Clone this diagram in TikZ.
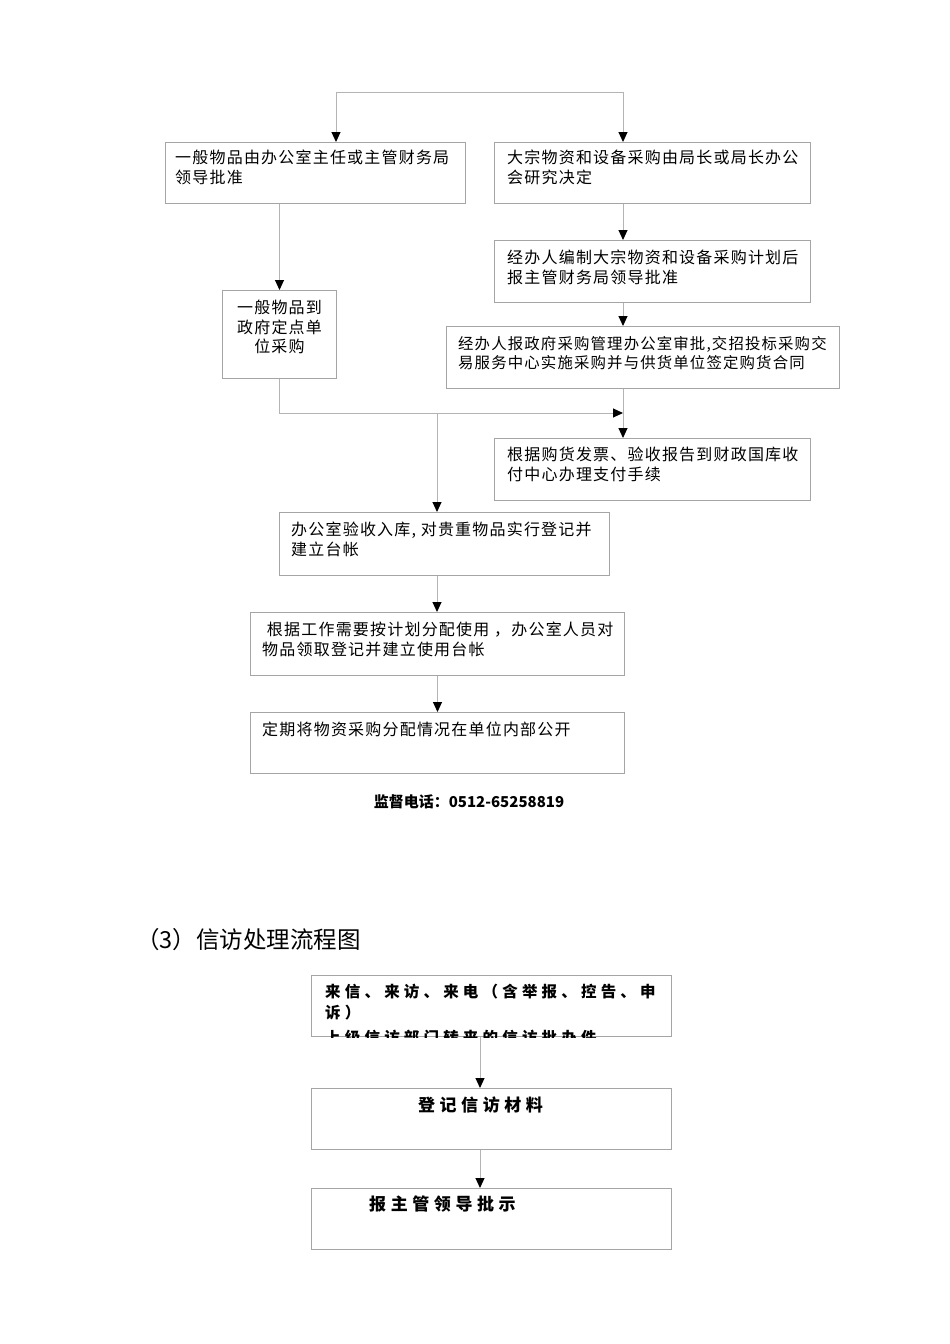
\documentclass[tikz,border=0pt]{standalone}
\usepackage{fontspec}
\setmainfont{Noto Sans CJK SC}
\newfontfamily\caigou[LetterSpace=7.5]{Noto Sans CJK SC}
\newfontfamily\xinfang[LetterSpace=27]{Noto Sans CJK SC}
\usetikzlibrary{
	arrows.meta,
	calc,
	positioning
}
\definecolor{BoxGray}{RGB}{165,165,165}
\definecolor{LineGray}{RGB}{180,180,180}
\tikzset{
	box/.style={draw=BoxGray, line width=1pt, inner sep=0pt, anchor=north west},
	txt/.style={inner sep=0pt, anchor=north west, align=left, font=\caigou\fontsize{16}{19.5}\selectfont},
	xftxt/.style={inner sep=0pt, anchor=north west, align=left, font=\xinfang\bfseries\fontsize{15.5}{20.5}\selectfont},
	link/.style={draw=LineGray, line width=1pt},
	arr/.style={link, -{Triangle[length=10pt,width=9pt,color=black]}}
}

\begin{document}
\begin{tikzpicture}[x=1pt, y=-1pt]
	\useasboundingbox (0,0) rectangle (950,1344);
	% procurement flow
	\node[box, minimum width=300pt, minimum height=61pt] (ga) at (165,142) {};
	\node[box, minimum width=316pt, minimum height=61pt] (gb) at (494,142) {};
	\node[box, minimum width=114pt, minimum height=88pt] (gc) at (222,290) {};
	\node[box, minimum width=316pt, minimum height=62pt] (gd) at (494,240) {};
	\node[box, minimum width=393pt, minimum height=62pt] (ge) at (446,326) {};
	\node[box, minimum width=316pt, minimum height=62pt] (gf) at (494,438) {};
	\node[box, minimum width=330pt, minimum height=63pt] (gg) at (279,512) {};
	\node[box, minimum width=374pt, minimum height=63pt] (gh) at (250,612) {};
	\node[box, minimum width=374pt, minimum height=61pt] (gi) at (250,712) {};

	\node[txt] (ta) at ([xshift=10pt,yshift=-8pt]ga.north west) {一般物品由办公室主任或主管财务局\\领导批准};
	\node[txt] (tb) at ([xshift=13pt,yshift=-8pt]gb.north west) {大宗物资和设备采购由局长或局长办公\\会研究决定};
	\node[txt, align=center, anchor=north] (tc) at ([yshift=-10pt]gc.north) {一般物品到\\政府定点单\\位采购};
	\node[txt] (td) at ([xshift=13pt,yshift=-10pt]gd.north west) {经办人编制大宗物资和设备采购计划后\\报主管财务局领导批准};
	\node[txt, font=\caigou\fontsize{15.4}{19.5}\selectfont] (te) at ([xshift=12pt,yshift=-10pt]ge.north west) {经办人报政府采购管理办公室审批,交招投标采购交\\易服务中心实施采购并与供货单位签定购货合同};
	\node[txt] (tf) at ([xshift=13pt,yshift=-9pt]gf.north west) {根据购货发票、验收报告到财政国库收\\付中心办理支付手续};
	\node[txt] (tg) at ([xshift=12pt,yshift=-10pt]gg.north west) {办公室验收入库, 对贵重物品实行登记并\\建立台帐};
	\node[txt] (th) at ([xshift=12pt,yshift=-10pt]gh.north west) {\ 根据工作需要按计划分配使用 ，办公室人员对\\物品领取登记并建立使用台帐};
	\node[txt] (ti) at ([xshift=12pt,yshift=-10pt]gi.north west) {定期将物资采购分配情况在单位内部公开};

	\coordinate (top1) at (336,92);
	\coordinate (top2) at (623,92);
	\coordinate (mrg) at (623,413);
	\coordinate (mrg2) at (437,413);
	\draw[link] (top1) -- (top2);
	\draw[arr] (top1) -- (top1 |- ga.north);
	\draw[arr] (top2) -- (top2 |- gb.north);
	\draw[arr] (gc.north |- ga.south) -- (gc.north);
	\draw[arr] (top2 |- gb.south) -- (top2 |- gd.north);
	\draw[arr] (top2 |- gd.south) -- (top2 |- ge.north);
	\draw[arr] (top2 |- ge.south) -- (top2 |- gf.north);
	\draw[arr] (gc.south) -- (gc.south |- mrg) -- (mrg);
	\draw[arr] (mrg2) -- (mrg2 |- gg.north);
	\draw[arr] (mrg2 |- gg.south) -- (mrg2 |- gh.north);
	\draw[arr] (gh.south) -- (gi.north);

	\node[inner sep=0pt, font=\bfseries\fontsize{15}{18}\selectfont] (tel) at (469,802) {监督电话：0512-65258819};

	% letters and visits
	\node[inner sep=0pt, anchor=west, font=\fontsize{23.5}{28}\selectfont] (title) at (136,940) {（3）信访处理流程图};

	\node[box, minimum width=360pt, minimum height=61pt] (gj) at (311,975) {};
	\node[box, minimum width=360pt, minimum height=61pt] (gk) at (311,1088) {};
	\node[box, minimum width=360pt, minimum height=61pt] (gl) at (311,1188) {};
	\begin{scope}
		\clip (gj.north west) rectangle (gj.south east);
		\node[xftxt] (tj) at ([xshift=14pt,yshift=-9pt]gj.north west) {来信、来访、来电（含举报、控告、申\\诉）\\[5pt]上级信访部门转来的信访批办件};
	\end{scope}
	\node[xftxt, font=\xinfang\bfseries\fontsize{17}{20}\selectfont, anchor=north] (tk) at ([xshift=-11pt,yshift=-9pt]gk.north) {登记信访材料};
	\node[xftxt, font=\xinfang\bfseries\fontsize{17}{20}\selectfont] (tl) at ([xshift=58pt,yshift=-8pt]gl.north west) {报主管领导批示};

	\coordinate (col) at (480,1000);
	\draw[arr] (col |- gj.south) -- (col |- gk.north);
	\draw[arr] (col |- gk.south) -- (col |- gl.north);
\end{tikzpicture}
\end{document}
